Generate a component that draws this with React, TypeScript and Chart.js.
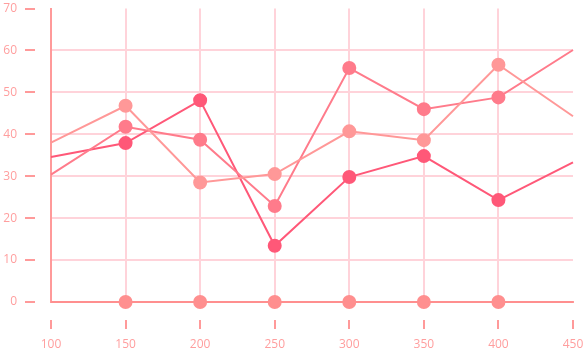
import React, { useEffect, useRef } from "react";
import { Chart, registerables } from "chart.js";

Chart.register(...registerables);

const xValues = [100, 150, 200, 250, 300, 350, 400, 450];
const seriesA = [34.6, 37.9, 48.1, 13.4, 29.8, 34.8, 24.3, 33.3];
const seriesB = [30.4, 41.8, 38.7, 22.9, 55.8, 46.0, 48.8, 60.1];
const seriesC = [38.0, 46.8, 28.5, 30.5, 40.7, 38.6, 56.6, 44.3];
const seriesZero = [0, 0, 0, 0, 0, 0, 0, 0];
const markerSizes = [0, 6, 6, 6, 6, 6, 6, 0];

const toPoints = (ys: number[]) => xValues.map((x, i) => ({ x, y: ys[i] }));

export default function App() {
  const ref = useRef<HTMLCanvasElement>(null);
  useEffect(() => {
    if (!ref.current) return;
    const mk = (data: number[], color: string) => ({
      data: toPoints(data),
      borderColor: color,
      backgroundColor: color,
      pointBackgroundColor: color,
      pointBorderColor: color,
      borderWidth: 2,
      pointRadius: markerSizes,
      pointHoverRadius: markerSizes,
      tension: 0,
      fill: false,
      clip: false as any,
    });
    const gridColor = (ctx: any) =>
      ctx.tick && (ctx.tick.value === 70 || ctx.tick.value === 450) ? "rgba(0,0,0,0)" : "#ffd3da";
    const chart = new Chart(ref.current, {
      type: "line",
      data: {
        datasets: [
          mk(seriesZero, "#ff8f8f"),
          mk(seriesC, "#ff9898"),
          mk(seriesB, "#ff7b8b"),
          mk(seriesA, "#ff5878"),
        ],
      },
      options: {
        animation: false,
        responsive: true,
        maintainAspectRatio: false,
        layout: { padding: { left: 3, right: 15, top: 8.5, bottom: 2 } },
        plugins: { legend: { display: false }, tooltip: { enabled: false } },
        scales: {
          x: {
            type: "linear",
            min: 100,
            max: 450,
            border: { color: "#ff9a9a", width: 2 },
            grid: {
              color: gridColor,
              lineWidth: 2,
              tickLength: 27,
              tickColor: "#ff9a9a",
              tickWidth: 2,
              tickBorderDash: [10, 17],
              tickBorderDashOffset: 10,
            },
            ticks: {
              stepSize: 50,
              padding: 8,
              color: "#ff9e9e",
              font: { family: "Open Sans", size: 12 },
            },
            afterFit: (scale: any) => {
              scale.height = 51;
              scale.paddingLeft = 0;
              scale.paddingRight = 0;
            },
          },
          y: {
            min: 0,
            max: 70,
            border: { color: "#ff9a9a", width: 2 },
            grid: {
              color: gridColor,
              lineWidth: 2,
              tickLength: 26,
              tickColor: "#ff9a9a",
              tickWidth: 2,
              tickBorderDash: [10, 16],
              tickBorderDashOffset: 0,
            },
            ticks: {
              stepSize: 10,
              padding: 8,
              color: "#ff9e9e",
              font: { family: "Open Sans", size: 12 },
            },
            afterFit: (scale: any) => {
              scale.width = 48;
              scale.paddingTop = 0;
              scale.paddingBottom = 0;
            },
          },
        },
      },
    });
    return () => chart.destroy();
  }, []);
  return (
    <div style={{ position: "fixed", left: 0, top: 0, width: 588, height: 355 }}>
      <canvas ref={ref} />
    </div>
  );
}
